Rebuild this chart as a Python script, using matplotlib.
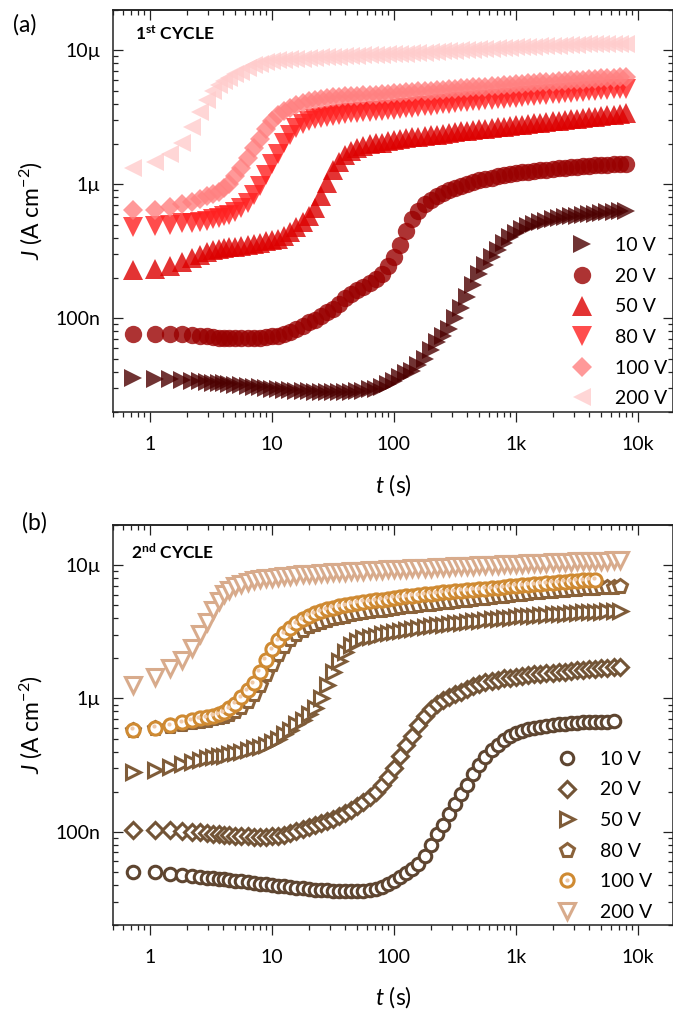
import numpy as np
import matplotlib
matplotlib.use("Agg")
import matplotlib.pyplot as plt
from matplotlib.ticker import LogLocator, FuncFormatter, NullFormatter
from matplotlib.transforms import offset_copy

plt.rcParams['font.family'] = ['Lato', 'DejaVu Sans']
plt.rcParams['mathtext.fontset'] = 'custom'
plt.rcParams['mathtext.rm'] = 'Lato'
plt.rcParams['mathtext.it'] = 'Lato:italic'
plt.rcParams['mathtext.bf'] = 'Lato:bold'

# ---- time axis (s) ----
t = [0.73, 1.1, 1.46, 1.83, 2.19, 2.56, 2.92, 3.29, 3.65, 4.02,
     4.47, 5.01, 5.62, 6.31, 7.08, 7.94, 8.91, 10.0, 11.2, 12.6,
     14.1, 15.8, 17.8, 20.0, 22.4, 25.1, 28.2, 31.6, 35.5, 39.8,
     44.7, 50.1, 56.2, 63.1, 70.8, 79.4, 89.1, 100, 112, 126,
     141, 158, 178, 200, 224, 251, 282, 316, 355, 398,
     447, 501, 562, 631, 708, 794, 891, 1000, 1122, 1259,
     1413, 1585, 1778, 1995, 2239, 2512, 2818, 3162, 3548, 3981,
     4467, 5012, 5623, 6310, 7079, 7943]

voltages = ['10 V', '20 V', '50 V', '80 V', '100 V', '200 V']

# ---- 1st cycle: log10 J (A cm^-2) ----
c1_10V = [-7.445, -7.45, -7.455, -7.46, -7.465, -7.47, -7.475, -7.48, -7.483, -7.486,
          -7.49, -7.495, -7.50, -7.505, -7.51, -7.515, -7.52, -7.525, -7.53, -7.533,
          -7.536, -7.54, -7.542, -7.544, -7.546, -7.548, -7.55, -7.55, -7.55, -7.55,
          -7.548, -7.545, -7.54, -7.53, -7.525, -7.51, -7.49, -7.465, -7.44, -7.41,
          -7.39, -7.35, -7.30, -7.24, -7.18, -7.13, -7.08, -7.00, -6.92, -6.84,
          -6.75, -6.67, -6.60, -6.54, -6.49, -6.44, -6.39, -6.36, -6.33, -6.31,
          -6.295, -6.28, -6.27, -6.26, -6.253, -6.246, -6.24, -6.234, -6.228, -6.223,
          -6.218, -6.213, -6.208, -6.204, -6.20, -6.196]
c1_20V = [-7.115, -7.115, -7.115, -7.12, -7.125, -7.13, -7.135, -7.14, -7.143, -7.146,
          -7.148, -7.15, -7.15, -7.15, -7.148, -7.145, -7.14, -7.135, -7.13, -7.12,
          -7.105, -7.08, -7.055, -7.03, -7.01, -6.98, -6.955, -6.93, -6.89, -6.85,
          -6.82, -6.79, -6.765, -6.74, -6.71, -6.67, -6.61, -6.54, -6.45, -6.35,
          -6.26, -6.20, -6.15, -6.12, -6.09, -6.065, -6.045, -6.03, -6.01, -5.995,
          -5.985, -5.97, -5.96, -5.95, -5.94, -5.93, -5.92, -5.915, -5.91, -5.905,
          -5.90, -5.895, -5.89, -5.885, -5.88, -5.875, -5.87, -5.867, -5.864, -5.861,
          -5.858, -5.855, -5.852, -5.85, -5.847, -5.845]
c1_50V = [-6.64, -6.63, -6.61, -6.58, -6.55, -6.525, -6.505, -6.49, -6.48, -6.475,
          -6.47, -6.465, -6.46, -6.45, -6.445, -6.435, -6.425, -6.415, -6.405, -6.385,
          -6.355, -6.32, -6.28, -6.24, -6.18, -6.09, -5.99, -5.89, -5.83, -5.78,
          -5.75, -5.73, -5.715, -5.70, -5.695, -5.69, -5.68, -5.67, -5.66, -5.655,
          -5.65, -5.645, -5.64, -5.635, -5.63, -5.625, -5.62, -5.61, -5.605, -5.60,
          -5.595, -5.59, -5.585, -5.58, -5.575, -5.57, -5.565, -5.56, -5.555, -5.55,
          -5.545, -5.54, -5.535, -5.53, -5.525, -5.52, -5.515, -5.51, -5.505, -5.50,
          -5.495, -5.49, -5.485, -5.48, -5.475, -5.47]
c1_80V = [-6.32, -6.31, -6.30, -6.29, -6.285, -6.28, -6.27, -6.26, -6.25, -6.24,
          -6.23, -6.21, -6.18, -6.14, -6.08, -6.01, -5.93, -5.85, -5.77, -5.69,
          -5.63, -5.58, -5.55, -5.53, -5.515, -5.505, -5.495, -5.488, -5.482, -5.476,
          -5.471, -5.466, -5.462, -5.458, -5.454, -5.45, -5.446, -5.442, -5.437, -5.432,
          -5.427, -5.422, -5.417, -5.412, -5.407, -5.402, -5.397, -5.392, -5.388, -5.384,
          -5.38, -5.376, -5.372, -5.368, -5.364, -5.36, -5.356, -5.352, -5.348, -5.344,
          -5.34, -5.336, -5.332, -5.328, -5.324, -5.32, -5.316, -5.312, -5.308, -5.304,
          -5.30, -5.297, -5.294, -5.291, -5.288, -5.285]
c1_100V = [-6.19, -6.19, -6.17, -6.15, -6.13, -6.11, -6.09, -6.075, -6.055, -6.03,
           -6.00, -5.94, -5.88, -5.80, -5.73, -5.66, -5.59, -5.53, -5.48, -5.45,
           -5.43, -5.41, -5.395, -5.38, -5.37, -5.36, -5.355, -5.35, -5.347, -5.344,
           -5.341, -5.338, -5.335, -5.332, -5.33, -5.327, -5.324, -5.32, -5.317, -5.313,
           -5.31, -5.306, -5.303, -5.30, -5.296, -5.293, -5.29, -5.286, -5.283, -5.28,
           -5.276, -5.273, -5.27, -5.266, -5.263, -5.26, -5.256, -5.253, -5.25, -5.246,
           -5.243, -5.24, -5.236, -5.233, -5.23, -5.227, -5.224, -5.221, -5.218, -5.215,
           -5.212, -5.209, -5.206, -5.203, -5.20, -5.197]
c1_200V = [-5.88, -5.83, -5.77, -5.69, -5.57, -5.46, -5.37, -5.30, -5.26, -5.23,
           -5.21, -5.18, -5.16, -5.13, -5.11, -5.10, -5.09, -5.08, -5.075, -5.07,
           -5.067, -5.064, -5.061, -5.058, -5.055, -5.052, -5.05, -5.048, -5.046, -5.044,
           -5.042, -5.04, -5.038, -5.036, -5.034, -5.032, -5.03, -5.028, -5.026, -5.024,
           -5.022, -5.02, -5.017, -5.014, -5.011, -5.008, -5.005, -5.002, -5.00, -4.998,
           -4.995, -4.993, -4.99, -4.988, -4.985, -4.983, -4.98, -4.978, -4.976, -4.974,
           -4.972, -4.97, -4.968, -4.966, -4.964, -4.962, -4.96, -4.958, -4.956, -4.955,
           -4.954, -4.953, -4.952, -4.951, -4.95, -4.949]

# ---- 2nd cycle: log10 J (A cm^-2) ----
c2_10V = [-7.30, -7.305, -7.315, -7.322, -7.33, -7.337, -7.343, -7.348, -7.352, -7.356,
          -7.36, -7.366, -7.372, -7.378, -7.384, -7.39, -7.395, -7.40, -7.405, -7.41,
          -7.415, -7.42, -7.425, -7.43, -7.434, -7.437, -7.44, -7.442, -7.444, -7.445,
          -7.445, -7.445, -7.443, -7.44, -7.43, -7.415, -7.395, -7.37, -7.34, -7.31,
          -7.28, -7.24, -7.18, -7.10, -7.02, -6.95, -6.87, -6.79, -6.72, -6.65,
          -6.57, -6.50, -6.44, -6.39, -6.35, -6.31, -6.28, -6.26, -6.245, -6.232,
          -6.222, -6.213, -6.205, -6.199, -6.194, -6.19, -6.186, -6.183, -6.18, -6.178,
          -6.176, -6.174, -6.173, -6.172]
c2_20V = [-6.985, -6.985, -6.99, -6.995, -7.00, -7.005, -7.01, -7.015, -7.02, -7.023,
          -7.027, -7.03, -7.033, -7.035, -7.037, -7.037, -7.036, -7.034, -7.03, -7.022,
          -7.01, -6.995, -6.98, -6.965, -6.95, -6.935, -6.92, -6.905, -6.885, -6.86,
          -6.835, -6.81, -6.78, -6.74, -6.70, -6.65, -6.59, -6.52, -6.43, -6.35,
          -6.28, -6.20, -6.13, -6.08, -6.04, -6.01, -5.99, -5.97, -5.95, -5.93,
          -5.91, -5.895, -5.88, -5.87, -5.86, -5.85, -5.843, -5.836, -5.83, -5.824,
          -5.819, -5.814, -5.81, -5.806, -5.802, -5.798, -5.794, -5.79, -5.786, -5.782,
          -5.778, -5.774, -5.77, -5.766, -5.762]
c2_50V = [-6.55, -6.54, -6.515, -6.495, -6.475, -6.46, -6.45, -6.44, -6.435, -6.43,
          -6.42, -6.41, -6.40, -6.385, -6.375, -6.365, -6.35, -6.33, -6.305, -6.27,
          -6.235, -6.195, -6.16, -6.12, -6.07, -6.00, -5.90, -5.80, -5.72, -5.65,
          -5.60, -5.57, -5.55, -5.54, -5.53, -5.52, -5.51, -5.50, -5.492, -5.485,
          -5.478, -5.47, -5.463, -5.457, -5.451, -5.446, -5.441, -5.436, -5.431, -5.426,
          -5.421, -5.416, -5.411, -5.406, -5.401, -5.397, -5.393, -5.389, -5.385, -5.381,
          -5.378, -5.375, -5.372, -5.369, -5.366, -5.363, -5.36, -5.357, -5.355, -5.353,
          -5.351, -5.349, -5.347, -5.345, -5.343]
c2_80V = [-6.235, -6.225, -6.21, -6.195, -6.18, -6.17, -6.16, -6.15, -6.14, -6.13,
          -6.115, -6.095, -6.065, -6.02, -5.965, -5.90, -5.82, -5.74, -5.665, -5.605,
          -5.555, -5.515, -5.485, -5.46, -5.44, -5.425, -5.41, -5.40, -5.39, -5.38,
          -5.37, -5.362, -5.354, -5.347, -5.34, -5.334, -5.328, -5.322, -5.316, -5.31,
          -5.305, -5.30, -5.295, -5.29, -5.285, -5.28, -5.275, -5.27, -5.265, -5.26,
          -5.255, -5.25, -5.245, -5.24, -5.235, -5.23, -5.225, -5.22, -5.215, -5.21,
          -5.205, -5.20, -5.196, -5.192, -5.188, -5.184, -5.18, -5.177, -5.174, -5.171,
          -5.168, -5.166, -5.164, -5.162, -5.16]
c2_100V = [-6.235, -6.22, -6.20, -6.18, -6.165, -6.15, -6.14, -6.13, -6.12, -6.105,
           -6.075, -6.04, -5.99, -5.94, -5.885, -5.80, -5.71, -5.63, -5.565, -5.51,
           -5.47, -5.435, -5.405, -5.38, -5.36, -5.345, -5.33, -5.32, -5.31, -5.30,
           -5.29, -5.283, -5.276, -5.27, -5.264, -5.258, -5.252, -5.246, -5.24, -5.235,
           -5.23, -5.225, -5.22, -5.215, -5.21, -5.205, -5.20, -5.196, -5.192, -5.188,
           -5.184, -5.18, -5.176, -5.172, -5.168, -5.164, -5.16, -5.156, -5.152, -5.148,
           -5.144, -5.14, -5.136, -5.132, -5.128, -5.124, -5.12, -5.117, -5.114, -5.111,
           -5.108]
c2_200V = [-5.90, -5.84, -5.775, -5.71, -5.62, -5.52, -5.43, -5.34, -5.27, -5.22,
           -5.185, -5.16, -5.14, -5.125, -5.115, -5.105, -5.10, -5.095, -5.09, -5.085,
           -5.08, -5.075, -5.07, -5.067, -5.064, -5.061, -5.058, -5.055, -5.052, -5.05,
           -5.047, -5.045, -5.042, -5.04, -5.037, -5.035, -5.032, -5.03, -5.028, -5.026,
           -5.024, -5.022, -5.02, -5.018, -5.016, -5.014, -5.012, -5.01, -5.008, -5.006,
           -5.004, -5.002, -5.00, -4.998, -4.996, -4.995, -4.993, -4.991, -4.989, -4.987,
           -4.985, -4.983, -4.981, -4.979, -4.977, -4.975, -4.974, -4.972, -4.971, -4.969,
           -4.968, -4.967, -4.966, -4.965, -4.964]

cycle1 = [c1_10V, c1_20V, c1_50V, c1_80V, c1_100V, c1_200V]
cycle2 = [c2_10V, c2_20V, c2_50V, c2_80V, c2_100V, c2_200V]

# ---- styles ----
mk1 = ['>', 'o', '^', 'v', 'D', '<']
col1 = ['#4c0000', '#990000', '#dd0000', '#ff2020', '#ff8080', '#ffcccc']
ms1 = [13.5, 12.5, 14, 14, 10.5, 13.5]

mk2 = ['o', 'D', '>', 'p', 'o', 'v']
col2 = ['#5e4530', '#725436', '#7f5c39', '#8a623a', '#cf8a32', '#d8ab8c']
ms2 = [9, 8, 10, 10.5, 9.5, 11.5]

spine_col = '#222222'
W, H = 673, 1019
fig = plt.figure(figsize=(W / 100, H / 100), dpi=100)
ax_a = fig.add_axes([113 / W, 1 - 412 / H, 560 / W, 402 / H])
ax_b = fig.add_axes([113 / W, 1 - 925 / H, 560 / W, 400 / H])

tick_lab = {1: '1', 10: '10', 100: '100', 1000: '1k', 10000: '10k'}
j_lab = {-7: '100n', -6: '1\u00b5', -5: '10\u00b5'}


def fmt_t(v, pos):
    k = int(round(v))
    return tick_lab.get(k, '')


def fmt_j(v, pos):
    e = int(round(np.log10(v)))
    return j_lab.get(e, '')


def style_axes(ax):
    ax.set_xscale('log')
    ax.set_yscale('log')
    ax.set_xlim(0.497, 1.94e4)
    ax.set_ylim(2.0e-8, 2.0e-5)
    for s in ax.spines.values():
        s.set_linewidth(1.1)
        s.set_color(spine_col)
    ax.xaxis.set_major_locator(LogLocator(base=10, numticks=10))
    ax.xaxis.set_minor_locator(LogLocator(base=10, subs=np.arange(2, 10), numticks=20))
    ax.yaxis.set_major_locator(LogLocator(base=10, numticks=10))
    ax.yaxis.set_minor_locator(LogLocator(base=10, subs=np.arange(2, 10), numticks=20))
    ax.xaxis.set_major_formatter(FuncFormatter(fmt_t))
    ax.xaxis.set_minor_formatter(NullFormatter())
    ax.yaxis.set_major_formatter(FuncFormatter(fmt_j))
    ax.yaxis.set_minor_formatter(NullFormatter())
    ax.tick_params(axis='x', which='both', direction='out', top=False,
                   color=spine_col, width=0.9, labelsize=14, pad=10)
    ax.tick_params(axis='y', which='both', direction='in', left=True, right=True,
                   color=spine_col, width=0.9, labelsize=14, pad=9)
    ax.tick_params(which='major', length=7)
    ax.tick_params(which='minor', length=3.8)
    top = ax.secondary_xaxis('top')
    top.xaxis.set_major_locator(LogLocator(base=10, numticks=10))
    top.xaxis.set_minor_locator(LogLocator(base=10, subs=np.arange(2, 10), numticks=20))
    top.xaxis.set_major_formatter(NullFormatter())
    top.xaxis.set_minor_formatter(NullFormatter())
    top.tick_params(which='both', direction='in', color=spine_col, width=0.9)
    top.tick_params(which='major', length=7)
    top.tick_params(which='minor', length=3.8)
    top.spines['top'].set_linewidth(1.1)
    top.spines['top'].set_color(spine_col)
    ax.set_xlabel(r'$t$ (s)', fontsize=16.5)
    ax.set_ylabel(r'$J$ (A cm$^{-2}$)', fontsize=16.5)
    ax.yaxis.set_label_coords(-0.122, 0.5)


# ---- panel (a): 1st cycle ----
for vals, lab, m, c, s in zip(cycle1, voltages, mk1, col1, ms1):
    n = len(vals)
    ax_a.plot(t[:n], 10 ** np.array(vals), ls='none', marker=m, ms=s,
              mfc=c, mec=c, mew=0, alpha=0.8, label=lab)
style_axes(ax_a)
ax_a.xaxis.set_label_coords(0.5, -0.149)
ax_a.text(0.039, 0.965, r'1$^{\mathbf{st}}$ CYCLE', transform=ax_a.transAxes,
          fontsize=12.5, fontweight='bold', ha='left', va='top')
ax_a.legend(loc='upper left', bbox_to_anchor=(0.820, 0.435), frameon=False,
            fontsize=14, handlelength=1.0, handletextpad=1.2, labelspacing=0.7,
            borderpad=0, borderaxespad=0, numpoints=1)

# ---- panel (b): 2nd cycle ----
handles_b = []
for vals, lab, m, c, s in zip(cycle2, voltages, mk2, col2, ms2):
    n = len(vals)
    ln, = ax_b.plot(t[:n], 10 ** np.array(vals), ls='none', marker=m, ms=s,
                    mfc='white', mec=c, mew=2.2, label=lab)
    if lab == '100 V':
        glint = offset_copy(ax_b.transData, fig=fig, x=-1.5, y=1.5, units='dots')
        dot, = ax_b.plot(t[:n], 10 ** np.array(vals), ls='none', marker='o', ms=3,
                         mfc='#efc9a8', mec='none', transform=glint)
        handles_b.append((ln, dot))
    else:
        handles_b.append(ln)
style_axes(ax_b)
ax_b.xaxis.set_label_coords(0.5, -0.1475)
ax_b.text(0.032, 0.955, r'2$^{\mathbf{nd}}$ CYCLE', transform=ax_b.transAxes,
          fontsize=12.5, fontweight='bold', ha='left', va='top')
ax_b.legend(handles_b, voltages, loc='upper left', bbox_to_anchor=(0.7934, 0.4355),
            frameon=False, fontsize=14, handlelength=1.0, handletextpad=1.2,
            labelspacing=0.7, borderpad=0, borderaxespad=0, numpoints=1)

fig.text(13 / W, 1 - 14 / H, '(a)', fontsize=16.5, ha='left', va='top')
fig.text(22 / W, 1 - 512 / H, '(b)', fontsize=16.5, ha='left', va='top')

fig.savefig('out.png', dpi=100)
